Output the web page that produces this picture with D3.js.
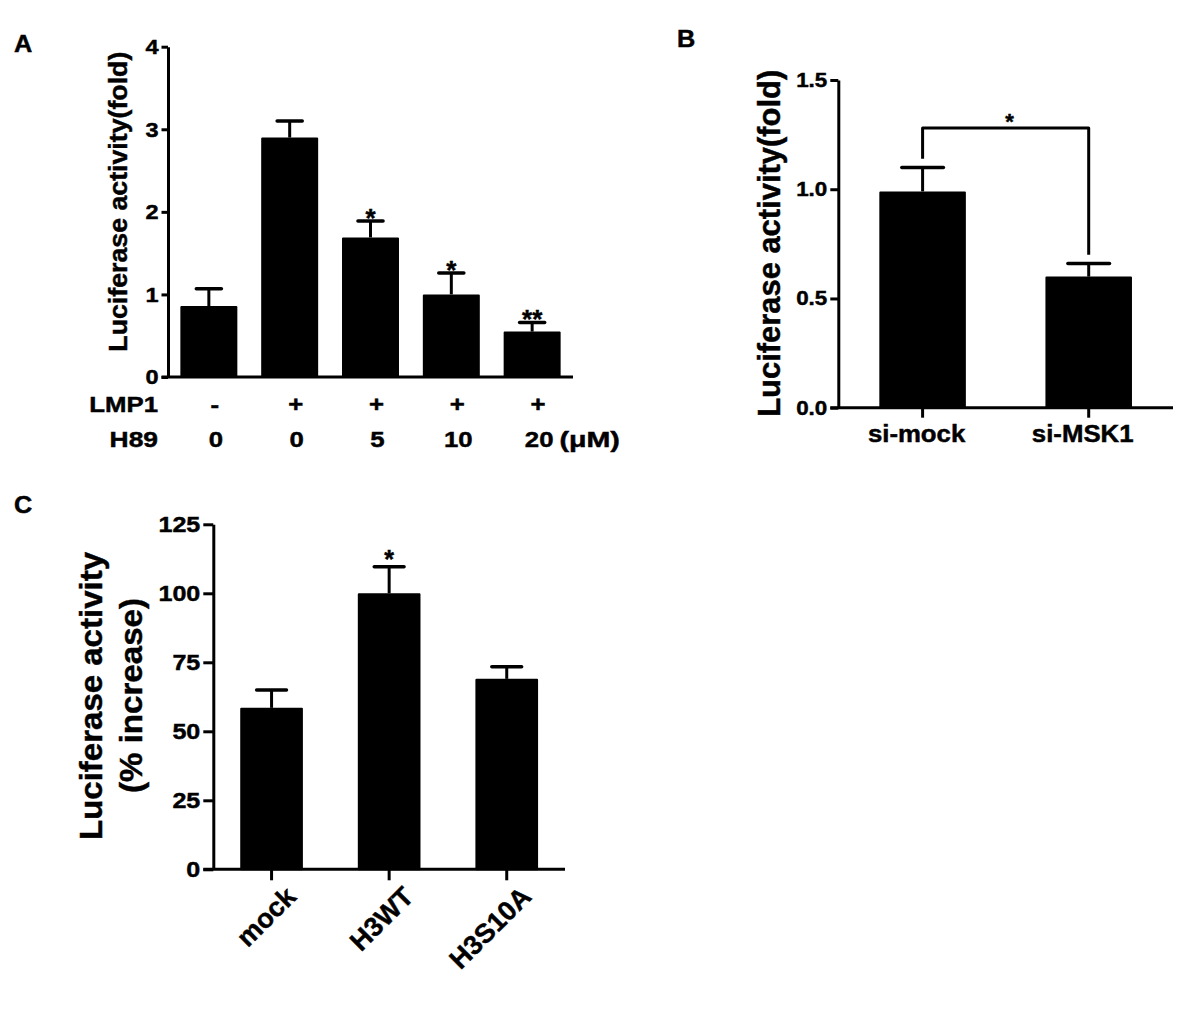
<!DOCTYPE html>
<html><head><meta charset="utf-8">
<script src="https://cdn.jsdelivr.net/npm/d3@7"></script>
<style>
body{margin:0;background:#fff;}
svg text{font-family:"Liberation Sans",Arial,Helvetica,sans-serif;font-weight:bold;fill:#000;stroke:#000;stroke-width:0.45px;}
</style></head><body>
<svg id="fig" width="1200" height="1009"></svg>
<script>
// ---------- Panel A data ----------
const groupsA = ["ctrl","LMP1","LMP1+H89 5","LMP1+H89 10","LMP1+H89 20"];
const lmp1Row = ["-","+","+","+","+"];
const h89Row = ["0","0","5","10","20"];
const h89Unit = "(μM)";
const meansA = [0.86, 2.90, 1.69, 1.00, 0.55];
const errA = [0.21, 0.20, 0.20, 0.26, 0.11];
const sigA = ["", "", "*", "*", "**"];
const ticksA = [0, 1, 2, 3, 4];
// ---------- Panel B data ----------
const catsB = ["si-mock","si-MSK1"];
const meansB = [0.99, 0.60];
const errB = [0.11, 0.06];
const sigB = "*";
const bracketB = [1.14, 1.28, 0.70]; // left leg end, bracket level, right leg end
const ticksB = [0, 0.5, 1.0, 1.5];
// ---------- Panel C data ----------
const catsC = ["mock","H3WT","H3S10A"];
const meansC = [58.5, 100, 69];
const errC = [6.5, 9.6, 4.4];
const sigC = ["", "*", ""];
const ticksC = [0, 25, 50, 75, 100, 125];

const svg = d3.select("#fig");

function stretch(sel, k){
  sel.each(function(){
    const w = this.getComputedTextLength();
    this.setAttribute("textLength", w*k);
    this.setAttribute("lengthAdjust","spacingAndGlyphs");
  });
  return sel;
}

function drawPanel(o){
  const x = d3.scaleBand().domain(o.cats).range([o.left, o.right]).paddingInner(o.pIn).paddingOuter(o.pOut);
  const y = d3.scaleLinear().domain([0, o.ymax]).range([o.bottom, o.top]);
  const g = svg.append("g");
  const cx = d => x(d) + x.bandwidth()/2;
  // bars
  g.selectAll("rect.bar").data(o.cats).join("rect").attr("class","bar")
    .attr("x", d => x(d)+1).attr("width", x.bandwidth()-2)
    .attr("y", (d,i) => y(o.means[i])+1).attr("height", (d,i) => y(0)-y(o.means[i])-1)
    .attr("fill","#000").attr("stroke","#000").attr("stroke-width",2).attr("stroke-linejoin","round");
  // error stems
  g.selectAll("line.err").data(o.cats).join("line").attr("class","err")
    .attr("x1", cx).attr("x2", cx)
    .attr("y1", (d,i) => y(o.means[i])).attr("y2", (d,i) => y(o.means[i]+o.errs[i]))
    .attr("stroke","#000").attr("stroke-width",3);
  // caps
  const cw = x.bandwidth()*o.capFrac;
  g.selectAll("line.cap").data(o.cats).join("line").attr("class","cap")
    .attr("x1", d => cx(d)-cw/2+1.7).attr("x2", d => cx(d)+cw/2-1.7)
    .attr("y1", (d,i) => y(o.means[i]+o.errs[i])).attr("y2", (d,i) => y(o.means[i]+o.errs[i]))
    .attr("stroke","#000").attr("stroke-width",3.5).attr("stroke-linecap","round");
  // y axis
  const ax = d3.axisLeft(y).tickValues(o.ticks).tickSize(o.tickSize).tickSizeOuter(0).tickPadding(3).tickFormat(o.fmt);
  const ag = g.append("g").attr("transform", `translate(${o.left},0)`).call(ax)
    .attr("font-family", null).attr("font-size", null);
  ag.select(".domain").attr("stroke","#000").attr("stroke-width",3);
  ag.selectAll(".tick line").attr("stroke","#000").attr("stroke-width",3);
  const tt = ag.selectAll(".tick text").style("font-size", o.tickFont+"px").attr("fill","#000");
  stretch(tt, o.tickStretch);
  // x axis line
  g.append("line").attr("x1", o.left-o.tickSize).attr("x2", o.right)
    .attr("y1", y(0)).attr("y2", y(0)).attr("stroke","#000").attr("stroke-width",3);
  return {x, y, g, cx};
}

// ================= Panel A =================
const A = drawPanel({cats: groupsA, means: meansA, errs: errA, left: 168, right: 573, top: 46.7, bottom: 377,
  ymax: 4, ticks: ticksA, fmt: d3.format("d"), tickSize: 6.5, tickFont: 21, tickStretch: 1.12,
  pIn: 0.295, pOut: 0.153, capFrac: 0.5});
A.g.selectAll("text.sig").data(groupsA).join("text").attr("class","sig")
  .attr("x", A.cx).attr("y", (d,i) => A.y(meansA[i]+errA[i]) - 9 + 0.575*26)
  .attr("text-anchor","middle").style("font-size","26px").text((d,i) => sigA[i]);
stretch(A.g.append("text").attr("x",158).attr("y",412).attr("text-anchor","end").style("font-size","22px").text("LMP1"),1.17);
stretch(A.g.append("text").attr("x",158).attr("y",446.7).attr("text-anchor","end").style("font-size","22px").text("H89"),1.2);
stretch(A.g.selectAll("text.lmp").data(groupsA).join("text").attr("class","lmp")
  .attr("x", d => A.cx(d)+6).attr("y",412).attr("text-anchor","middle").style("font-size","22px")
  .text((d,i) => lmp1Row[i]), 1.17);
const h89t = A.g.selectAll("text.h89").data(groupsA).join("text").attr("class","h89")
  .attr("x", d => A.cx(d)+7).attr("y",446.7).attr("text-anchor","middle").style("font-size","22px")
  .text((d,i) => h89Row[i]);
stretch(h89t, 1.17);
const lastBox = h89t.nodes()[h89t.size()-1].getBBox();
stretch(A.g.append("text").attr("x", lastBox.x + lastBox.width + 6).attr("y",446.7).style("font-size","22px").text(h89Unit),1.3);
A.g.append("text").attr("transform","translate(126.7,201.7) rotate(-90)").attr("text-anchor","middle")
  .style("font-size","26px").attr("textLength",300).attr("lengthAdjust","spacingAndGlyphs")
  .text("Luciferase activity(fold)");

// ================= Panel B =================
const B = drawPanel({cats: catsB, means: meansB, errs: errB, left: 838.3, right: 1173, top: 80, bottom: 407.7,
  ymax: 1.5, ticks: ticksB, fmt: d3.format(".1f"), tickSize: 8, tickFont: 20, tickStretch: 1.12,
  pIn: 0.479, pOut: 0.247, capFrac: 0.52});
B.g.selectAll("line.xt").data(catsB).join("line").attr("class","xt")
  .attr("x1", B.cx).attr("x2", B.cx).attr("y1", B.y(0)).attr("y2", B.y(0)+10)
  .attr("stroke","#000").attr("stroke-width",3);
stretch(B.g.selectAll("text.xl").data(catsB).join("text").attr("class","xl")
  .attr("x", d => B.cx(d)-6).attr("y",441.7).attr("text-anchor","middle").style("font-size","23px").text(d => d), 1.12);
const bl = B.cx(catsB[0]), br = B.cx(catsB[1]);
B.g.append("path")
  .attr("d", `M${bl},${B.y(bracketB[0])}V${B.y(bracketB[1])}H${br}V${B.y(bracketB[2])}`)
  .attr("fill","none").attr("stroke","#000").attr("stroke-width",3).attr("stroke-linejoin","round");
B.g.append("text").attr("x",(bl+br)/2+4).attr("y", B.y(bracketB[1]) - 12 + 0.575*22)
  .attr("text-anchor","middle").style("font-size","22px").text(sigB);
B.g.append("text").attr("transform","translate(780,243.3) rotate(-90)").attr("text-anchor","middle")
  .style("font-size","31px").attr("textLength",347).attr("lengthAdjust","spacingAndGlyphs")
  .text("Luciferase activity(fold)");

// ================= Panel C =================
const C = drawPanel({cats: catsC, means: meansC, errs: errC, left: 213.3, right: 565, top: 524.3, bottom: 869.3,
  ymax: 125, ticks: ticksC, fmt: d3.format("d"), tickSize: 10, tickFont: 22, tickStretch: 1.14,
  pIn: 0.467, pOut: 0.229, capFrac: 0.53});
C.g.selectAll("line.xt").data(catsC).join("line").attr("class","xt")
  .attr("x1", C.cx).attr("x2", C.cx).attr("y1", C.y(0)).attr("y2", C.y(0)+11)
  .attr("stroke","#000").attr("stroke-width",3);
C.g.selectAll("text.xl").data(catsC).join("text").attr("class","xl")
  .attr("transform", d => `translate(${C.cx(d)+26},${C.y(0)+29}) rotate(-45)`)
  .attr("text-anchor","end").style("font-size","27px").text(d => d);
C.g.selectAll("text.sig").data(catsC).join("text").attr("class","sig")
  .attr("x", C.cx).attr("y", (d,i) => C.y(meansC[i]+errC[i]) - 13 + 0.575*25)
  .attr("text-anchor","middle").style("font-size","25px").text((d,i) => sigC[i]);
C.g.append("text").attr("transform","translate(101.7,696) rotate(-90)").attr("text-anchor","middle")
  .style("font-size","32px").attr("textLength",288).attr("lengthAdjust","spacingAndGlyphs")
  .text("Luciferase activity");
C.g.append("text").attr("transform","translate(141.7,695.5) rotate(-90)").attr("text-anchor","middle")
  .style("font-size","32px").attr("textLength",195).attr("lengthAdjust","spacingAndGlyphs")
  .text("(% increase)");

// ---------- panel letters ----------
const letters = [["A",14,51.7],["B",677,46.7],["C",14,513]];
letters.forEach(l => stretch(svg.append("text").attr("x",l[1]).attr("y",l[2]).style("font-size","23px").text(l[0]),1.1));
</script>
</body></html>
